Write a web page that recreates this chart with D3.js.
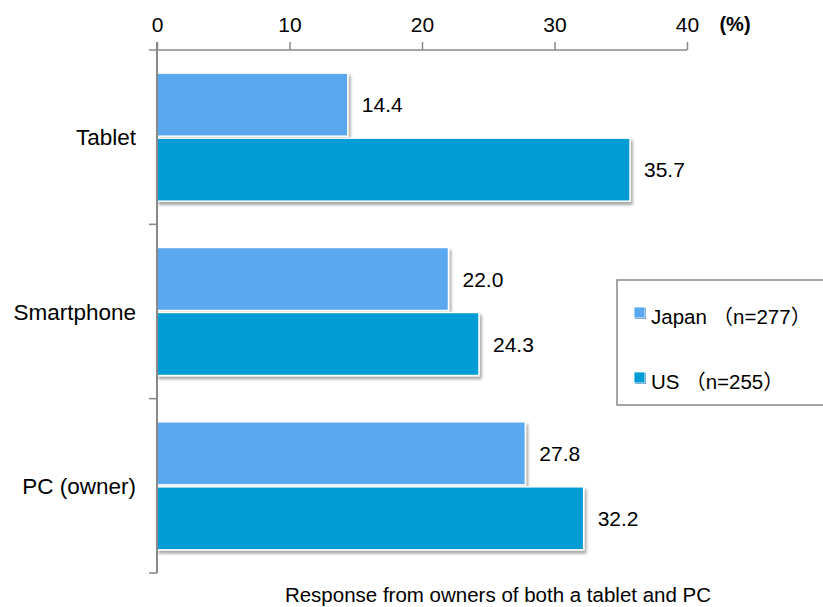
<!DOCTYPE html>
<html>
<head>
<meta charset="utf-8">
<script src="https://cdn.jsdelivr.net/npm/d3@7"></script>
<style>
  html, body { margin: 0; padding: 0; background: #fff; }
  svg { display: block; font-family: "Liberation Sans", Arial, "Noto Sans CJK JP", sans-serif; }
</style>
</head>
<body>
<svg id="chart" width="823" height="607"></svg>
<script>
// Device usage share by region (%)
const categories = ["Tablet", "Smartphone", "PC (owner)"];
const seriesNames = ["Japan", "US"];
const seriesLabels = ["Japan （n=277）", "US （n=255）"];
const japanValues = [14.4, 22.0, 27.8];
const usValues = [35.7, 24.3, 32.2];
const xTicks = [0, 10, 20, 30, 40];
const colors = ["#5AA8F0", "#009CD6"];

const values = [japanValues, usValues];
const rows = categories.map((c, i) => ({
  category: c,
  bars: seriesNames.map((s, j) => ({ series: s, value: values[j][i], idx: j }))
}));

const svg = d3.select("#chart");

const defs = svg.append("defs");
const f = defs.append("filter").attr("id", "shadow")
  .attr("x", "-5%").attr("y", "-10%").attr("width", "115%").attr("height", "140%");
f.append("feDropShadow").attr("dx", 2).attr("dy", 3).attr("stdDeviation", 1.8)
  .attr("flood-color", "#000").attr("flood-opacity", 0.35);

const x = d3.scaleLinear().domain([0, 40]).range([157, 687]);
const y = d3.scaleBand().domain(categories).range([50, 573]).padding(0);
const ySub = d3.scaleBand().domain(seriesNames).range([0, y.bandwidth()])
  .paddingInner(0.03).paddingOuter(0.356);

// Bars
const groups = svg.append("g").selectAll("g").data(rows).join("g")
  .attr("transform", d => `translate(0,${y(d.category)})`);

groups.selectAll("rect").data(d => d.bars).join("rect")
  .attr("x", x(0))
  .attr("y", d => ySub(d.series))
  .attr("width", d => x(d.value) - x(0))
  .attr("height", ySub.bandwidth())
  .attr("fill", d => colors[d.idx])
  .attr("stroke", "#fff")
  .attr("stroke-width", 1.5)
  .attr("filter", "url(#shadow)");

// Value labels
groups.selectAll("text.val").data(d => d.bars).join("text")
  .attr("class", "val")
  .attr("x", d => x(d.value) + 14)
  .attr("y", d => ySub(d.series) + ySub.bandwidth() / 2)
  .attr("dy", "0.36em")
  .attr("font-size", 21)
  .attr("fill", "#000")
  .text(d => d.value.toFixed(1));

// Top axis
const xAxis = d3.axisTop(x).tickValues(xTicks).tickSize(8).tickPadding(10).tickFormat(d3.format("d"));
const gx = svg.append("g").attr("transform", "translate(0,50)").call(xAxis);
gx.select(".domain").attr("stroke", "#888").attr("stroke-width", 1.5)
  .attr("d", `M${x(0) - 8},0H${x(40)}`);
gx.selectAll(".tick line").attr("stroke", "#888").attr("stroke-width", 1.5);
gx.selectAll(".tick text").attr("font-size", 21).attr("fill", "#000")
  .attr("font-family", "Liberation Sans, Arial, sans-serif");

svg.append("text")
  .attr("x", 735).attr("y", 31)
  .attr("text-anchor", "middle")
  .attr("font-size", 20).attr("font-weight", "bold").attr("fill", "#000")
  .text("(%)");

// Left axis
const yAxis = d3.axisLeft(y).tickValues([]).tickSize(0);
const gy = svg.append("g").attr("transform", `translate(${x(0)},0)`).call(yAxis);
gy.select(".domain").attr("stroke", "#888").attr("stroke-width", 2)
  .attr("d", `M0,42V573`);
const bounds = categories.map(c => y(c) + y.bandwidth());
gy.selectAll("line.sep").data(bounds).join("line")
  .attr("class", "sep")
  .attr("x1", -8).attr("x2", 0)
  .attr("y1", d => d).attr("y2", d => d)
  .attr("stroke", "#888").attr("stroke-width", 1.5);

// Category labels
svg.append("g").selectAll("text").data(categories).join("text")
  .attr("x", 136)
  .attr("y", d => y(d) + y.bandwidth() / 2)
  .attr("dy", "0.36em")
  .attr("text-anchor", "end")
  .attr("font-size", 22.5)
  .attr("fill", "#000")
  .text(d => d);

// Legend
const legend = svg.append("g");
legend.append("rect")
  .attr("x", 617).attr("y", 280).attr("width", 230).attr("height", 125)
  .attr("fill", "#fff").attr("stroke", "#888").attr("stroke-width", 1.5);
const li = legend.selectAll("g").data(seriesLabels).join("g")
  .attr("transform", (d, i) => `translate(634,${307 + i * 65})`);
li.append("rect").attr("x", 1).attr("y", 1).attr("width", 11).attr("height", 11).attr("fill", "#3a7fb5");
li.append("rect").attr("width", 11).attr("height", 11)
  .attr("fill", (d, i) => colors[i]).attr("stroke", "#fff").attr("stroke-width", 0.8);
li.append("text")
  .attr("x", 17).attr("y", 17)
  .attr("font-size", 20.5).attr("fill", "#000")
  .text(d => d);

// Caption
svg.append("text")
  .attr("x", 498).attr("y", 602)
  .attr("text-anchor", "middle")
  .attr("font-size", 20.5).attr("fill", "#000")
  .text("Response from owners of both a tablet and PC");
</script>
</body>
</html>
